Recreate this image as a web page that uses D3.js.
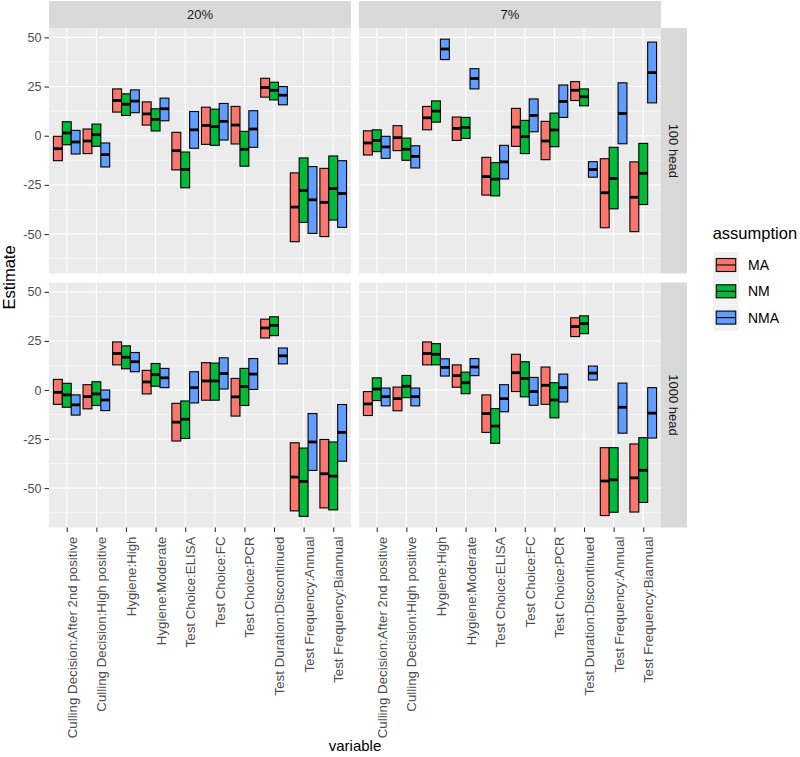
<!DOCTYPE html>
<html><head><meta charset="utf-8">
<script src="https://cdn.jsdelivr.net/npm/d3@7"></script>
<style>body{margin:0;background:#fff} text{font-family:"Liberation Sans",Arial,Helvetica,sans-serif}</style>
</head><body><svg id="c" width="800" height="757"></svg>
<script>
const variables = ["Culling Decision:After 2nd positive","Culling Decision:High positive","Hygiene:High","Hygiene:Moderate","Test Choice:ELISA","Test Choice:FC","Test Choice:PCR","Test Duration:Discontinued","Test Frequency:Annual","Test Frequency:Biannual"];
const assumptions = ["MA","NM","NMA"];
const colours = ["#F8766D","#00BA38","#619CFF"];
const prevalences = ["20%","7%"];
const herds = ["100 head","1000 head"];
const yTicks = [-50,-25,0,25,50];
const yMinor = [-62.5,-37.5,-12.5,12.5,37.5];

// [lower, middle, upper] per variable
const p20_h100_MA  = [[-12.7,-6.6,-0.3],[-9.1,-2.7,3.4],[12,17.9,23.8],[5.4,11.1,17.2],[-17.4,-7.6,1.7],[-4.4,5.2,14.5],[-4.2,5.4,14.9],[19.6,24.5,29.2],[-53.9,-36.3,-18.9],[-51.3,-33.9,-16.6]];
const p20_h100_NM  = [[-4.6,1.4,7.1],[-5.4,0.5,5.9],[10.3,16,21.3],[2.4,8.3,13.7],[-26.5,-17.2,-8.3],[-4.9,4.6,13.5],[-15.5,-6.9,2.2],[18.2,23.1,27.2],[-44.1,-27.9,-11.3],[-42.9,-26.9,-10.3]];
const p20_h100_NMA = [[-9.3,-3.2,2.7],[-15.9,-9.6,-3.7],[11.7,17.6,23.3],[7.6,13.7,19.1],[-6.4,3,12.3],[-2.2,7.3,16.4],[-5.9,3.4,12.7],[15.7,20.6,25],[-49.7,-32.6,-15.7],[-46.6,-29.4,-12.7]];

const p7_h100_MA  = [[-9.8,-3.7,2.5],[-7.6,-1,5.1],[3,9.1,14.9],[-2.4,3.7,9.5],[-30.2,-20.8,-11],[-5.4,4.4,13.9],[-12.2,-2.7,7.3],[17.9,23.1,27.5],[-46.8,-29,-11.7],[-48.8,-31.3,-13.3]];
const p7_h100_NM  = [[-8.1,-2.4,3],[-12.5,-6.9,-1.2],[6.9,12.5,17.7],[-1.4,4.2,9.3],[-30.6,-22.1,-13.7],[-9.1,-0.5,7.8],[-5.6,2.9,11.5],[15.2,19.8,23.8],[-37.2,-21.8,-5.9],[-35,-19.1,-3.9]];
const p7_h100_NMA = [[-11.5,-5.7,-0.3],[-16.4,-10.5,-5.1],[38.7,44.1,49.1],[23.8,29.1,34.1],[-22,-13.3,-4.9],[2,10.3,18.7],[9.3,17.4,25.8],[-21.1,-17.2,-13.2],[-4.1,11.3,26.9],[16.7,32.1,47.6]];

const p20_h1000_MA  = [[-7.3,-1.2,5.4],[-9.6,-3.4,2.7],[12.8,18.6,24.5],[-2,4.1,10],[-26,-16.4,-6.8],[-5.2,4.6,13.9],[-13.3,-3.5,5.9],[26.5,31.6,36.1],[-61.6,-44.4,-26.9],[-60.1,-42.7,-25.2]];
const p20_h1000_NM  = [[-8.8,-2.5,3.4],[-7.9,-2,4.2],[10.8,16.7,22.5],[1.9,7.8,13.5],[-24.7,-14.9,-5.6],[-5.2,4.6,13.7],[-7.9,1.7,11],[27.7,32.9,37.3],[-64.4,-46.6,-29.6],[-61.1,-43.9,-26.5]];
const p20_h1000_NMA = [[-12.8,-7.6,-2.5],[-10.5,-5.1,0],[9.3,14.4,19.1],[1.2,6.2,11],[-6.6,1.2,9.3],[0.5,8.4,16.4],[0.3,8.1,16],[13.3,17.4,21.4],[-41,-26.5,-12],[-36.3,-21.6,-7.4]];

const p7_h1000_MA  = [[-13,-7.1,-0.8],[-10.6,-4.4,1.5],[12.8,18.6,24.5],[1.4,7.3,12.8],[-21.6,-12,-2.5],[-0.8,8.8,18.2],[-7.3,2.4,11.7],[27.2,32.3,36.8],[-64,-46.4,-29.4],[-62.2,-44.8,-27.5]];
const p7_h1000_NM  = [[-5.4,0.5,6.2],[-3.9,1.9,7.4],[12.8,18.2,23.6],[-1.9,3.7,9.1],[-27.2,-18.4,-9.5],[-3.5,5.9,14.4],[-14.2,-5.1,3.7],[28.7,33.8,37.8],[-62.3,-45.8,-29.4],[-57.3,-40.9,-24.3]];
const p7_h1000_NMA = [[-8.1,-3.4,1],[-8.1,-3.4,1],[7.1,11.5,15.9],[7.3,11.7,16],[-11.1,-4.4,2.7],[-7.8,-0.8,6.4],[-6.1,1.2,8.1],[5.1,8.6,12.2],[-22,-8.8,3.5],[-24.5,-11.8,1.2]];

const panelData = [
  [[p20_h100_MA,p20_h100_NM,p20_h100_NMA],[p7_h100_MA,p7_h100_NM,p7_h100_NMA]],
  [[p20_h1000_MA,p20_h1000_NM,p20_h1000_NMA],[p7_h1000_MA,p7_h1000_NM,p7_h1000_NMA]]
];

const svg = d3.select("#c");
const colX = [[49,351],[359,661]];
const rowY = [[28,273.5],[282.5,527.5]];

// shared y domain from data with 5% expansion
const allVals = panelData.flat(3).flat();
const lo = d3.min(allVals), hi = d3.max(allVals), pad = (hi-lo)*0.05;
const yDomain = [lo-pad, hi+pad];

const colour = d3.scaleOrdinal().domain(assumptions).range(colours);
const FONT = '"Liberation Sans",Arial,sans-serif';

for (let r=0;r<2;r++){
  const y = d3.scaleLinear().domain(yDomain).range([rowY[r][1], rowY[r][0]]);
  for (let c=0;c<2;c++){
    const x = d3.scalePoint().domain(variables).range(colX[c]).padding(0.6);
    const step = x.step();
    const dodge = d3.scaleBand().domain(assumptions).range([-0.45*step, 0.45*step]);
    const g = svg.append("g");
    g.append("rect").attr("x",colX[c][0]).attr("y",rowY[r][0])
      .attr("width",colX[c][1]-colX[c][0]).attr("height",rowY[r][1]-rowY[r][0]).attr("fill","#EBEBEB");
    g.selectAll(".mn").data(yMinor).join("line")
      .attr("x1",colX[c][0]).attr("x2",colX[c][1]).attr("y1",d=>y(d)).attr("y2",d=>y(d))
      .attr("stroke","#fff").attr("stroke-width",0.55);
    g.selectAll(".mj").data(yTicks).join("line")
      .attr("x1",colX[c][0]).attr("x2",colX[c][1]).attr("y1",d=>y(d)).attr("y2",d=>y(d))
      .attr("stroke","#fff").attr("stroke-width",1.1);
    g.selectAll(".vx").data(variables).join("line")
      .attr("x1",d=>x(d)).attr("x2",d=>x(d)).attr("y1",rowY[r][0]).attr("y2",rowY[r][1])
      .attr("stroke","#fff").attr("stroke-width",1.1);

    assumptions.forEach((a,ai)=>{
      const arr = panelData[r][c][ai];
      const items = arr.map((v,i)=>({v:variables[i], lo:v[0], mid:v[1], hi:v[2]}));
      const bg = g.append("g");
      bg.selectAll("rect").data(items).join("rect")
        .attr("x",d=>x(d.v)+dodge(a)).attr("width",dodge.bandwidth())
        .attr("y",d=>y(d.hi)).attr("height",d=>y(d.lo)-y(d.hi))
        .attr("fill",colour(a)).attr("stroke","#000").attr("stroke-width",1.1);
      bg.selectAll("line").data(items).join("line")
        .attr("x1",d=>x(d.v)+dodge(a)).attr("x2",d=>x(d.v)+dodge(a)+dodge.bandwidth())
        .attr("y1",d=>y(d.mid)).attr("y2",d=>y(d.mid))
        .attr("stroke","#000").attr("stroke-width",2.8);
    });

    // strips
    if (r===0){
      svg.append("rect").attr("x",colX[c][0]).attr("y",1).attr("width",colX[c][1]-colX[c][0]).attr("height",27).attr("fill","#D9D9D9");
      svg.append("text").attr("x",(colX[c][0]+colX[c][1])/2).attr("y",14.5).attr("dy","0.35em")
        .attr("text-anchor","middle").attr("font-size","13px").attr("fill","#1A1A1A").text(prevalences[c]);
    }
    if (c===1){
      svg.append("rect").attr("x",661).attr("y",rowY[r][0]).attr("width",26).attr("height",rowY[r][1]-rowY[r][0]).attr("fill","#D9D9D9");
      const cy=(rowY[r][0]+rowY[r][1])/2;
      svg.append("text").attr("transform",`translate(674,${cy}) rotate(90)`).attr("dy","0.35em")
        .attr("text-anchor","middle").attr("font-size","13px").attr("fill","#1A1A1A").text(herds[r]);
    }
    if (c===0){
      const ax = svg.append("g").attr("transform",`translate(${colX[0][0]},0)`)
        .call(d3.axisLeft(y).tickValues(yTicks).tickSize(4.5).tickPadding(3).tickFormat(d=>String(d)));
      ax.select(".domain").remove();
      ax.selectAll("line").attr("stroke","#333333").attr("stroke-width",1.1);
      ax.selectAll("text").attr("fill","#4D4D4D").attr("font-size","12.6px").attr("font-family",FONT);
    }
    if (r===1){
      const ax = svg.append("g").attr("transform",`translate(0,${rowY[1][1]})`)
        .call(d3.axisBottom(x).tickSize(4.5).tickPadding(0));
      ax.select(".domain").remove();
      ax.selectAll("line").attr("stroke","#333333").attr("stroke-width",1.1);
      ax.selectAll("text").attr("fill","#4D4D4D").attr("font-size","13.3px").attr("font-family",FONT)
        .attr("text-anchor","end").attr("transform","rotate(-90)")
        .attr("x",-9).attr("y",0).attr("dy","0.72em");
    }
  }
}

// axis titles
svg.append("text").attr("x",355).attr("y",751).attr("text-anchor","middle").attr("font-size","15px").attr("fill","#000").text("variable");
svg.append("text").attr("transform","translate(14.5,277.5) rotate(-90)").attr("text-anchor","middle").attr("font-size","16.5px").attr("fill","#000").text("Estimate");

// legend
const lg = svg.append("g");
lg.append("text").attr("x",712.7).attr("y",238.5).attr("font-size","16.5px").attr("fill","#000").text("assumption");
assumptions.forEach((a,i)=>{
  const ky = 252 + i*26.3;
  lg.append("rect").attr("x",713).attr("y",ky).attr("width",26).attr("height",26).attr("fill","#F2F2F2");
  lg.append("rect").attr("x",713+3.25).attr("y",ky+6.5).attr("width",19.5).attr("height",13)
    .attr("fill",colour(a)).attr("stroke","#000").attr("stroke-width",1.1);
  lg.append("line").attr("x1",713+3.25).attr("x2",713+22.75).attr("y1",ky+13).attr("y2",ky+13).attr("stroke","#000").attr("stroke-width",1.1);
  lg.append("text").attr("x",748).attr("y",ky+13).attr("dy","0.35em").attr("font-size","14px").attr("fill","#000").text(a);
});
</script></body></html>
